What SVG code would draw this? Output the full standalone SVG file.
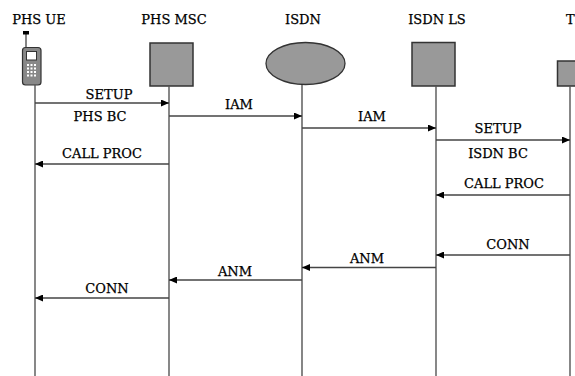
<svg xmlns="http://www.w3.org/2000/svg" width="575" height="376" viewBox="0 0 575 376">
<style>
  text { font-family: "DejaVu Serif", "Liberation Serif", serif; font-size: 13px; fill: #000; stroke: #000; stroke-width: 0.25; text-anchor: middle; }
  .life { stroke: #555; stroke-width: 1.4; fill: none; }
  .box { fill: #999; stroke: #333; stroke-width: 1.5; }
  .msg { stroke: #444; stroke-width: 1.4; fill: none; marker-end: url(#ah); }
</style>
<defs>
  <marker id="ah" markerUnits="userSpaceOnUse" markerWidth="9" markerHeight="7" refX="8" refY="3.5" orient="auto">
    <path d="M0,0 L8,3.5 L0,7 z" fill="#000"/>
  </marker>
</defs>
<rect width="575" height="376" fill="#fff"/>

<g id="phs-ue">
  <text x="39" y="24">PHS UE</text>
  <line x1="26" y1="34" x2="26" y2="47" stroke="#333" stroke-width="1.2"/>
  <rect x="23" y="31" width="6" height="3.5" fill="#000"/>
  <rect x="22.5" y="47.5" width="18.5" height="37.5" rx="3" fill="#888" stroke="#333" stroke-width="1.2"/>
  <rect x="26.5" y="51.5" width="10" height="8.5" fill="#fff" stroke="#333" stroke-width="1"/>
  <g fill="#fff">
    <rect x="27" y="64" width="2" height="2"/><rect x="30.5" y="64" width="2" height="2"/><rect x="34" y="64" width="2" height="2"/>
    <rect x="27" y="67.5" width="2" height="2"/><rect x="30.5" y="67.5" width="2" height="2"/><rect x="34" y="67.5" width="2" height="2"/>
    <rect x="27" y="71" width="2" height="2"/><rect x="30.5" y="71" width="2" height="2"/><rect x="34" y="71" width="2" height="2"/>
    <rect x="27" y="74.5" width="2" height="2"/><rect x="30.5" y="74.5" width="2" height="2"/><rect x="34" y="74.5" width="2" height="2"/>
  </g>
  <line class="life" x1="35" y1="85" x2="35" y2="376"/>
</g>

<g id="phs-msc">
  <text x="174" y="24">PHS MSC</text>
  <rect class="box" x="150" y="43" width="43" height="43"/>
  <line class="life" x1="169" y1="86" x2="169" y2="376"/>
</g>

<g id="isdn">
  <text x="303" y="24">ISDN</text>
  <ellipse cx="305.5" cy="63.5" rx="39.5" ry="21" fill="#999" stroke="#333" stroke-width="1.3"/>
  <line x1="302" y1="84.5" x2="302" y2="376" stroke="#222" stroke-width="1.1"/>
</g>

<g id="isdn-ls">
  <text x="437" y="24">ISDN LS</text>
  <rect class="box" x="412" y="42.5" width="43" height="43.5"/>
  <line class="life" x1="436" y1="86" x2="436" y2="376"/>
</g>

<g id="te">
  <text x="566" y="24" style="text-anchor:start">TE</text>
  <rect class="box" x="557.5" y="61" width="30" height="25"/>
  <line class="life" x1="570" y1="86" x2="570" y2="376"/>
</g>

<g id="connectors">
  <line class="msg" x1="35" y1="103" x2="169" y2="103"/>
  <text x="109" y="99">SETUP</text>
  <text x="100" y="121">PHS BC</text>

  <line class="msg" x1="169" y1="116" x2="302" y2="116"/>
  <text x="239" y="109">IAM</text>

  <line class="msg" x1="302" y1="128" x2="436" y2="128"/>
  <text x="372" y="121">IAM</text>

  <line class="msg" x1="436" y1="140" x2="570" y2="140"/>
  <text x="498" y="133">SETUP</text>
  <text x="498" y="158">ISDN BC</text>

  <line class="msg" x1="169" y1="164" x2="35" y2="164"/>
  <text x="102" y="158">CALL PROC</text>

  <line class="msg" x1="570" y1="195" x2="436" y2="195"/>
  <text x="504" y="188">CALL PROC</text>

  <line class="msg" x1="570" y1="255" x2="436" y2="255"/>
  <text x="508" y="249">CONN</text>

  <line class="msg" x1="436" y1="267.5" x2="302" y2="267.5"/>
  <text x="367" y="263">ANM</text>

  <line class="msg" x1="302" y1="280" x2="169" y2="280"/>
  <text x="235" y="276">ANM</text>

  <line class="msg" x1="169" y1="298" x2="35" y2="298"/>
  <text x="107" y="293">CONN</text>
</g>
</svg>
